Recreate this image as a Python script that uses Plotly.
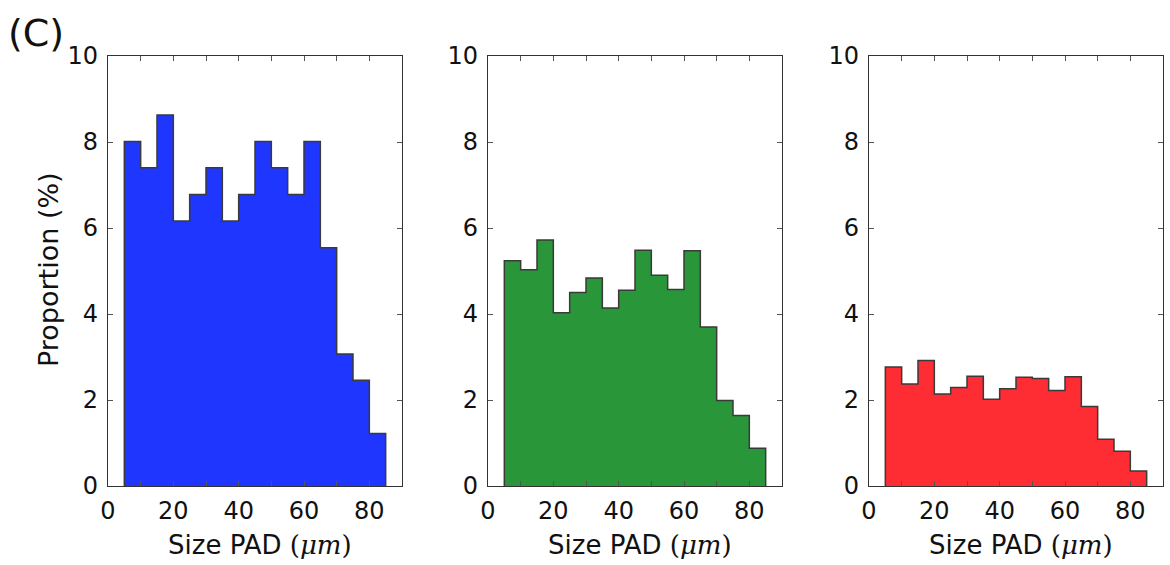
import plotly.graph_objects as go

bin_edges = [5, 10, 15, 20, 25, 30, 35, 40, 45, 50, 55, 60, 65, 70, 75, 80, 85]
blue_vals = [8.01, 7.40, 8.63, 6.16, 6.78, 7.40, 6.16, 6.78, 8.01, 7.40, 6.78, 8.01, 5.54, 3.07, 2.46, 1.22]
green_vals = [5.24, 5.03, 5.72, 4.03, 4.50, 4.84, 4.14, 4.55, 5.48, 4.90, 4.57, 5.47, 3.70, 1.99, 1.64, 0.88]
red_vals = [2.77, 2.37, 2.92, 2.14, 2.29, 2.55, 2.02, 2.26, 2.53, 2.50, 2.22, 2.54, 1.85, 1.09, 0.81, 0.35]

x_tickvals = [0, 10, 20, 30, 40, 50, 60, 70, 80, 90]
x_ticktext = ["0", "", "20", "", "40", "", "60", "", "80", ""]
y_tickvals = [0, 2, 4, 6, 8, 10]
y_ticktext = ["0", "2", "4", "6", "8", "10"]

series = [(blue_vals, "#1f36fe"), (green_vals, "#2a963a"), (red_vals, "#fe2d34")]

W, H = 1170, 565
x_domains = [(108, 402), (488, 782), (869, 1163)]
y_top, y_bot = 56, 486
ydom = [1 - y_bot / H, 1 - y_top / H]

FONT = "DejaVu Sans, Liberation Sans, sans-serif"
fig = go.Figure()

for i, (vals, col) in enumerate(series):
    xs = [bin_edges[0]] + list(bin_edges) + [bin_edges[-1]]
    ys = [0] + list(vals) + [vals[-1], 0]
    ax = "" if i == 0 else str(i + 1)
    fig.add_trace(go.Scatter(
        x=xs, y=ys, mode="lines", line=dict(shape="hv", color="#3a3a3a", width=1.5),
        fill="tozeroy", fillcolor=col, xaxis="x" + ax, yaxis="y" + ax,
        showlegend=False, hoverinfo="skip"))
    common = dict(showline=True, linecolor="#333333", linewidth=1.2, mirror="ticks",
                  ticks="inside", ticklen=5, tickwidth=1, tickcolor="#555555",
                  showgrid=False, zeroline=False, automargin=False,
                  tickfont=dict(family=FONT, size=24, color="#111111"))
    xd = [x_domains[i][0] / W, x_domains[i][1] / W]
    fig.update_layout(**{
        "xaxis" + ax: dict(domain=xd, range=[0, 90], tickmode="array",
                           tickvals=x_tickvals, ticktext=x_ticktext,
                           anchor="y" + ax, ticklabelstandoff=3, **common),
        "yaxis" + ax: dict(domain=ydom, range=[0, 10], tickmode="array",
                           tickvals=y_tickvals, ticktext=y_ticktext,
                           anchor="x" + ax, ticklabelstandoff=4, **common),
    })
    cx = ((x_domains[i][0] + x_domains[i][1]) / 2 + 5) / W
    fig.add_annotation(
        text="Size PAD <span style=\"font-family:'DejaVu Serif'\">(<i>μm</i>)</span>",
        x=cx, y=1 - 545 / H, xref="paper", yref="paper", showarrow=False,
        xanchor="center", yanchor="middle", font=dict(family=FONT, size=26, color="#111111"))

fig.add_annotation(text="Proportion (%)", x=48 / W, y=1 - 270 / H, xref="paper", yref="paper",
                   showarrow=False, textangle=-90, xanchor="center", yanchor="middle",
                   font=dict(family=FONT, size=27, color="#111111"))
fig.add_annotation(text="(C)", x=6 / W, y=1 - 33 / H, xref="paper", yref="paper",
                   showarrow=False, xanchor="left", yanchor="middle",
                   font=dict(family=FONT, size=38, color="#111111"))

fig.update_layout(width=W, height=H, margin=dict(l=0, r=0, t=0, b=0, autoexpand=False),
                  paper_bgcolor="white", plot_bgcolor="white")
fig.write_html("out.html")
